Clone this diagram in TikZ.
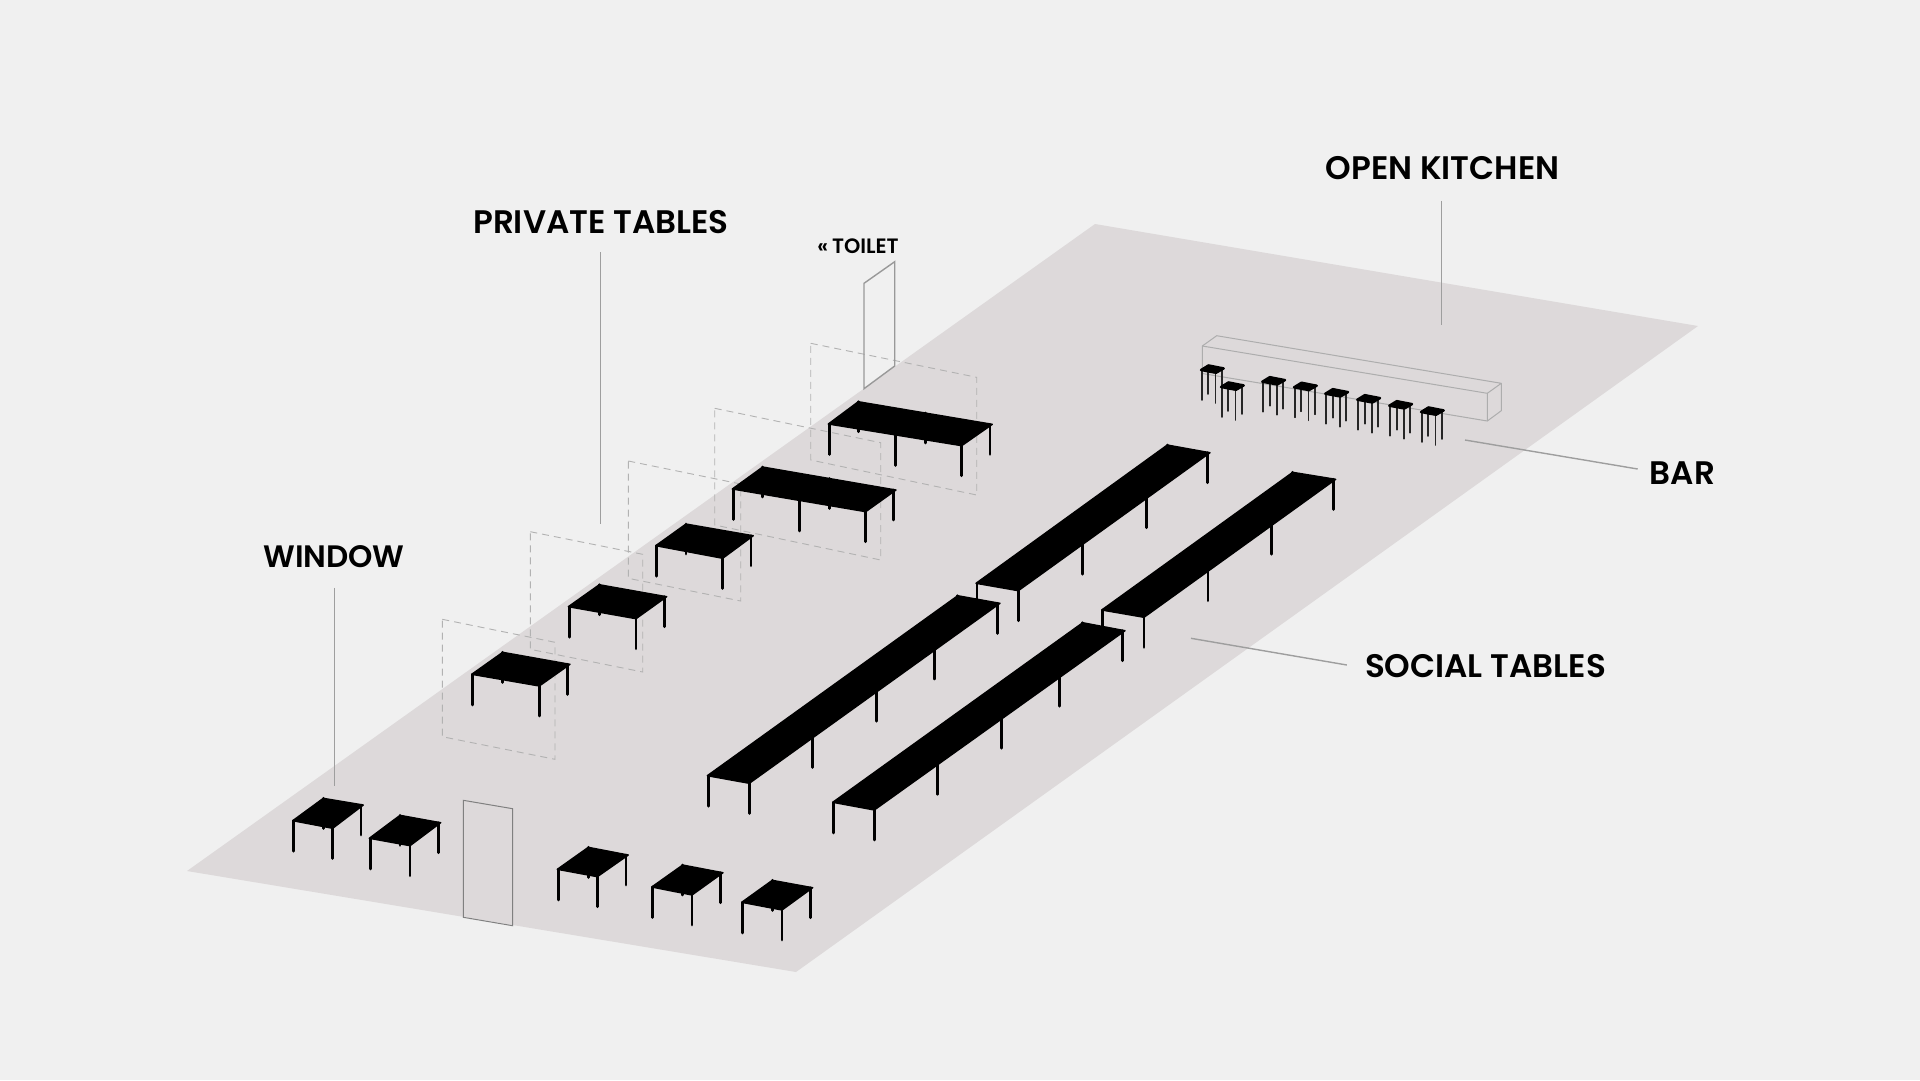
\documentclass[tikz,border=0pt]{standalone}
\usepackage{fontspec}
\setmainfont{Poppins}[BoldFont={Poppins SemiBold}]
\usetikzlibrary{calc}
\definecolor{bgc}{HTML}{F0F0F0}
\definecolor{floorc}{HTML}{DDD9DA}
\tikzset{
  floorarea/.style={fill=floorc,draw=none},
  leg/.style={draw=black,line width=2.9pt,line cap=round},
  top/.style={fill=black,draw=black,line width=1.4pt,line join=round},
  seat/.style={fill=black,draw=black,line width=2.4pt,line join=round},
  stoolleg/.style={draw=black!85,line width=1.8pt,line cap=round},
  frame/.style={draw=black!30,line width=0.9pt,dash pattern=on 7pt off 5pt},
  door/.style={draw=black!50,line width=1pt,line join=miter},
  doorb/.style={draw=black!40,line width=1.4pt,line join=miter},
  barbox/.style={draw=black!32,line width=1pt,line join=round},
  leader/.style={draw=black!38,line width=1.4pt},
  lab/.style={font=\bfseries\fontsize{32.6}{34}\selectfont,text=black,inner sep=0pt,anchor=center},
  labw/.style={font=\bfseries\fontsize{31}{33}\selectfont,text=black,inner sep=0pt,anchor=center},
  labs/.style={font=\bfseries\fontsize{20.8}{22}\selectfont,text=black,inner sep=0pt,anchor=center}
}
% #1 L, #2 B, #3 R, #4 F, #5 leg fractions L->F, #6 leg fractions F->R, #7 back-leg fractions B->R
\newcommand{\tabletop}[7]{
  \coordinate (tL) at (#1); \coordinate (tB) at (#2); \coordinate (tR) at (#3); \coordinate (tF) at (#4);
  \foreach \f in {#7} { \draw[leg] ($(tB)!\f!(tR)$) -- ++(0,30); }
  \foreach \f in {#5} { \draw[leg] ($(tL)!\f!(tF)+(1-\f,0)$) -- ++(0,30.5); }
  \foreach \f in {#6} { \draw[leg] ($(tF)!\f!(tR)+(-2.3*\f,0)$) -- ++(0,30); }
  \draw[top] (tL) -- (tB) -- (tR) -- (tF) -- cycle;
}
\newcommand{\stool}[2]{
  \begin{scope}[shift={(#1,#2)}]
    \draw[stoolleg] (8.3,0) -- (8.3,24);
    \draw[stoolleg] (22,0) -- (22,27);
    \draw[stoolleg] (2,0) -- (2,30);
    \draw[stoolleg] (15.5,0) -- (15.5,33);
    \draw[seat] (1,0) -- (8.5,-4.6) -- (23.7,-1.6) -- (16,2.8) -- cycle;
  \end{scope}
}
\begin{document}
\begin{tikzpicture}[x=1pt,y=-1pt]
\useasboundingbox (0,0) rectangle (1920,1080);
\fill[bgc] (0,0) rectangle (1920,1080);
\coordinate (f1) at (1095,224); \coordinate (f2) at (1698,326);
\coordinate (f3) at (796,972); \coordinate (f4) at (187,871);
\fill[floorarea] (f1) -- (f2) -- (f3) -- (f4) -- cycle;

% dashed frames
\draw[frame] (442.3,619.3) -- (555,642.3) -- (555,759.3) -- (442.3,736.7) -- cycle;
\draw[frame] (530.3,531.7) -- (642.7,554.3) -- (642.7,672) -- (530.3,649.3) -- cycle;
\draw[frame] (628.3,461) -- (740.7,484) -- (740.7,601) -- (628.3,578.3) -- cycle;
\draw[frame] (714.7,408.3) -- (880.7,442.7) -- (880.7,560) -- (714.7,525) -- cycle;
\draw[frame] (810.7,343.3) -- (976.7,377.3) -- (976.7,495) -- (810.7,460) -- cycle;

% doors
\draw[doorb] (864,283.3) -- (894.7,261.7) -- (894.7,366) -- (864,388.7) -- cycle;
\draw[door] (463.3,800.3) -- (512.7,808.7) -- (512.7,925.7) -- (463.3,917.3) -- cycle;

% bar
\draw[barbox] (1202.3,346) -- (1487.3,393.3) -- (1487.3,421) -- (1202.3,373.5) -- cycle;
\draw[barbox] (1202.3,346) -- (1216.7,335.7) -- (1501.3,383.3) -- (1487.3,393.3);
\draw[barbox] (1501.3,383.3) -- (1501.3,410.7) -- (1487.3,421);
\stool{1200}{370}
\stool{1220}{387}
\stool{1261.3}{381.7}
\stool{1293}{387.3}
\stool{1324.3}{393.7}
\stool{1356.3}{399.7}
\stool{1388.3}{405.7}
\stool{1420}{412}

% window tables
\tabletop{292.7,820.7}{323.3,798.3}{363.3,805}{332.7,828.3}{0}{0,1}{0}
\tabletop{369.3,838.3}{400,815.3}{440.7,822.7}{410,845.7}{0}{0,1}{0}
\tabletop{557.3,869.3}{588.3,847.3}{628.3,855}{597.3,876.7}{0}{0,1}{0}
\tabletop{651.7,887}{682.7,865}{723,872.7}{692,895}{0}{0,1}{0}
\tabletop{741.7,902.3}{772.3,880.3}{812.7,887.7}{782,910}{0}{0,1}{0}

% private tables
\tabletop{471.7,674.3}{502.7,652.3}{570,664.3}{539.3,686}{0}{0,1}{0}
\tabletop{568.3,606.7}{599.3,584.7}{666.7,596.7}{636,618.7}{0}{0,1}{0}
\tabletop{655.7,545.7}{686,524}{753.3,535.7}{722.7,558.3}{0}{0,1}{0}
\tabletop{732.3,489}{762.7,467}{896,490}{865.7,511.7}{0,0.5}{0,1}{0,0.5}
\tabletop{828.3,424}{858.3,401.7}{992.3,424.3}{961.7,445.7}{0,0.5}{0,1}{0,0.5}

% social tables
\tabletop{976,583.3}{1167.3,445}{1210,452.7}{1018.3,590.7}{0}{0,0.338,0.675,1}{0}
\tabletop{1101.7,610}{1292.7,472.3}{1335.7,479.3}{1144,617.3}{0}{0,0.338,0.675,1}{0}
\tabletop{707.3,775.7}{957.7,595.7}{1000,603.3}{749.3,783.3}{0}{0,0.255,0.512,0.746,1}{0}
\tabletop{832.7,802.3}{1082.7,622.7}{1125,630.7}{874.3,810}{0}{0,0.255,0.512,0.746,1}{0}

% labels and leaders
\node[lab] (kitchen) at (1442.5,168) {OPEN KITCHEN};
\node[lab] (private) at (601,222) {PRIVATE TABLES};
\node[labw] (window) at (334,557) {WINDOW};
\node[lab] (bar) at (1682.5,473) {BAR};
\node[lab] (social) at (1485.5,666) {SOCIAL TABLES};
\node[labs] (toilet) at (858,246.5) {«\kern-1pt\ TOILET};
\coordinate (kitchenEnd) at (1441.7,325);
\coordinate (privateEnd) at (600.6,524);
\coordinate (windowEnd) at (334.3,786);
\coordinate (barEnd) at (1465,440);
\coordinate (socialEnd) at (1191,638.3);
\draw[leader] (kitchen.south -| kitchenEnd) ++(0,21) -- (kitchenEnd);
\draw[leader] (private.south -| privateEnd) ++(0,18.5) -- (privateEnd);
\draw[leader] (window.south -| windowEnd) ++(0,19.5) -- (windowEnd);
\draw[leader] (bar.west |- 1638,469) ++(-12,0) -- (barEnd);
\draw[leader] (social.west |- 1346.7,665) ++(-18,0) -- (socialEnd);
\end{tikzpicture}
\end{document}
